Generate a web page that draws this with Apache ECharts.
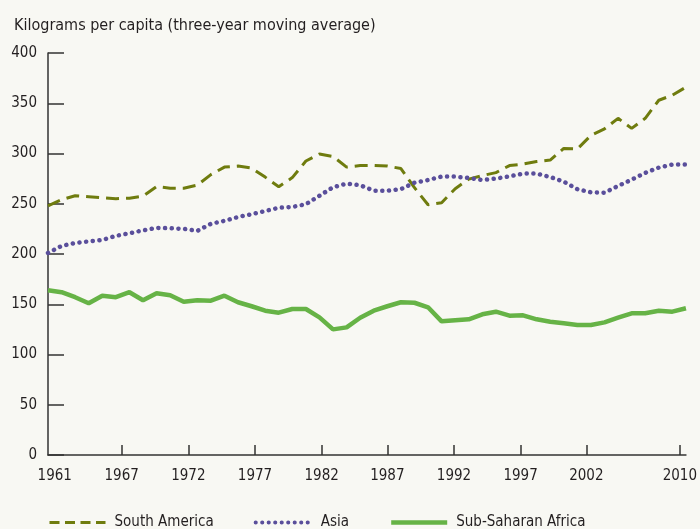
<!DOCTYPE html>
<html>
<head>
<meta charset="utf-8">
<script src="https://cdn.jsdelivr.net/npm/echarts@6/dist/echarts.min.js"></script>
<style>
	html, body { margin: 0; padding: 0; background: #f8f8f3; }
	#chart { width: 700px; height: 529px; }
</style>
</head>
<body>
<div id="chart"></div>
<script>
// one point per year, 1961 - 2008
var years = [];
for(var y = 1961; y <= 2008; y++) {
	years.push(y);
}

var southAmerica = [248, 254, 258, 257, 256, 255, 255.5, 257.5, 267, 265.5,
	265.5, 268.5, 279, 286.5, 287.5, 285.5, 276.5, 267, 276, 292.5,
	299.5, 297, 286.5, 288, 288, 287.5, 285, 266, 249, 251,
	265, 274.5, 278, 281, 288, 289.5, 292, 293.5, 305, 304.5,
	318, 324.5, 335, 325, 335, 353, 358, 366];

var asia = [201, 208, 211, 212.6, 214, 218, 220.6, 223.5, 226, 225.6,
	225, 223, 230, 233, 236.8, 239.6, 242.8, 246, 246.8, 249.5,
	258, 266.4, 270, 268.4, 263, 263, 264.5, 271, 273.6, 277,
	277, 275.6, 273.6, 275, 277.3, 280, 280, 276.6, 272, 264.5,
	261.4, 261, 267.7, 274, 280.7, 286, 289, 289];

var subSaharan = [164, 162, 157, 151, 158.5, 157, 162, 154, 161, 159,
	152.5, 154, 153.5, 158.5, 152, 148, 143.6, 141.6, 145.3, 145.3,
	137, 125, 127, 136.6, 143.6, 148, 152, 151.5, 147, 133,
	134, 135, 140, 142.6, 138.6, 139, 135, 132.6, 131, 129.4,
	129.4, 132, 136.6, 141, 141, 143.6, 142.6, 146];

// tick labels and where they sit on the year scale
var xLabels = ['1961', '1967', '1972', '1977', '1982', '1987', '1992', '1997', '2002', '2010'];
var xLabelAt = [1961.5, 1966.43, 1971.34, 1976.25, 1981.16, 1986.0, 1990.91, 1995.82, 2000.66, 2007.55];

var FONT = "'Liberation Sans Narrow', 'DejaVu Sans Condensed', sans-serif";
var INK = '#231f20';
var OLIVE = '#6f7c0e', PURPLE = '#5a4f9b', GREEN = '#66b346';

function pairs(vals) {
	var out = [];
	for(var i = 0; i < vals.length; i++) {
		out.push([years[i], vals[i]]);
	}
	return out;
}

function labelFor(v) {
	for(var i = 0; i < xLabelAt.length; i++) {
		if(Math.abs(xLabelAt[i] - v) < 0.01)
			return xLabels[i];
	}
	return '';
}

var myChart = echarts.init(document.getElementById('chart'));
var option = {
	backgroundColor: '#f8f8f3',
	animation: false,
	title: {
		text: 'Kilograms per capita (three-year moving average)',
		left: 9,
		top: 13,
		textStyle: {
			color: INK,
			fontFamily: FONT,
			fontSize: 16,
			fontWeight: 'normal'
		}
	},
	legend: {
		left: 43,
		top: 510,
		itemWidth: 56,
		itemHeight: 14,
		itemGap: 40,
		itemStyle: { opacity: 0 },
		textStyle: {
			color: INK,
			fontFamily: FONT,
			fontSize: 15,
			padding: [0, 0, 0, 4]
		},
		data: [{
			name: 'South America',
			itemStyle: { opacity: 0 },
			lineStyle: { color: OLIVE, width: 3, type: [10, 5.5] }
		}, {
			name: 'Asia',
			itemStyle: { opacity: 0 },
			lineStyle: { color: PURPLE, width: 4, type: [0.1, 6.4], cap: 'round' }
		}, {
			name: 'Sub-Saharan Africa',
			itemStyle: { opacity: 0 },
			lineStyle: { color: GREEN, width: 4.5 }
		}]
	},
	grid: {
		left: 48,
		right: 11,
		top: 53,
		bottom: 74
	},
	xAxis: {
		type: 'value',
		min: 1961,
		max: 2008,
		splitLine: { show: false },
		axisLine: {
			lineStyle: { color: '#333', width: 1.5 }
		},
		axisTick: {
			inside: true,
			length: 10,
			customValues: xLabelAt.slice(1),
			lineStyle: { color: '#333', width: 1.5 }
		},
		axisLabel: {
			customValues: xLabelAt,
			formatter: labelFor,
			margin: 14,
			color: INK,
			fontFamily: FONT,
			fontSize: 15
		}
	},
	yAxis: {
		type: 'value',
		min: 0,
		max: 400,
		interval: 50,
		splitLine: { show: false },
		axisLine: {
			show: true,
			lineStyle: { color: '#333', width: 1.5 }
		},
		axisTick: {
			show: true,
			inside: true,
			length: 16,
			lineStyle: { color: '#333', width: 1.5 }
		},
		axisLabel: {
			margin: 11,
			color: INK,
			fontFamily: FONT,
			fontSize: 15
		}
	},
	series: [{
		name: 'South America',
		type: 'line',
		symbol: 'none',
		data: pairs(southAmerica),
		itemStyle: { color: OLIVE },
		lineStyle: { color: OLIVE, width: 3, type: [13, 7] }
	}, {
		name: 'Asia',
		type: 'line',
		symbol: 'none',
		data: pairs(asia),
		itemStyle: { color: PURPLE },
		lineStyle: { color: PURPLE, width: 4.5, type: [0.1, 6.6], cap: 'round' }
	}, {
		name: 'Sub-Saharan Africa',
		type: 'line',
		symbol: 'none',
		data: pairs(subSaharan),
		itemStyle: { color: GREEN },
		lineStyle: { color: GREEN, width: 4.5 }
	}]
};
myChart.setOption(option);
</script>
</body>
</html>
